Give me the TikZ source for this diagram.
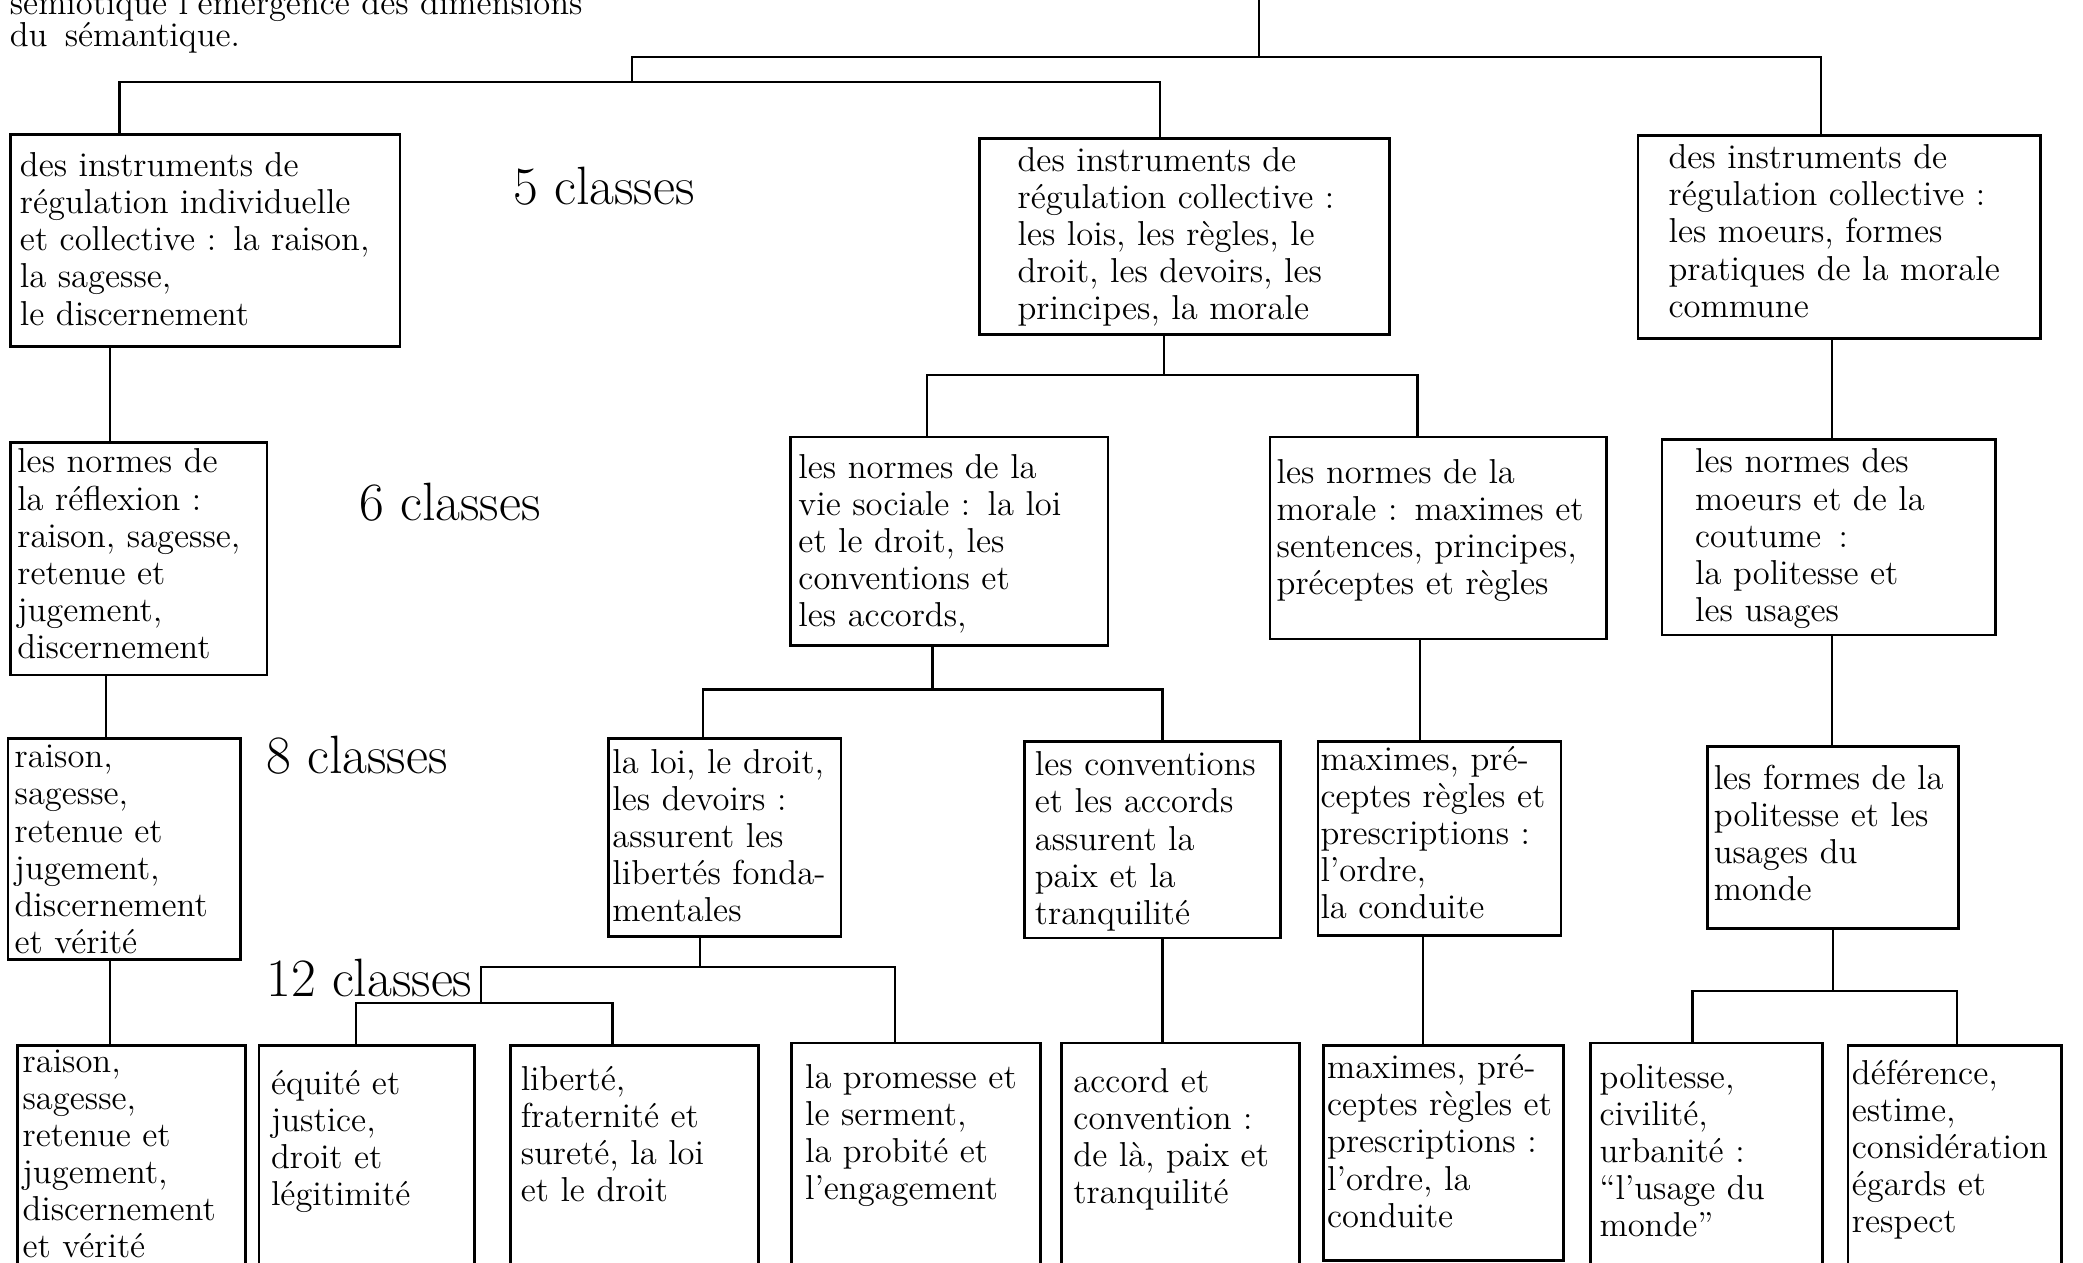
\documentclass[tikz,border=0pt]{standalone}
\newlength{\unitpx}
\setlength{\unitpx}{0.48pt}
\begin{document}
\begin{tikzpicture}[x=0.48pt,y=-0.48pt,
    cls/.style={draw, line width=1pt, anchor=north west, align=left, inner ysep=0pt,
      font=\fontsize{12.5}{13.4}\selectfont},
    lbl/.style={anchor=base west, inner sep=0pt, font=\fontsize{19.5}{22}\selectfont},
    link/.style={line width=0.8pt}]
    \useasboundingbox (0,0) rectangle (1568,950);
    \clip (0,0) rectangle (1568,950);
    \fill[white] (0,0) rectangle (1568,950);
    %
    \node[anchor=base west, inner sep=0pt, text width=450\unitpx, align=left,
      font=\fontsize{12.5}{11.5}\selectfont] (intro) at (7,11)
      {\makebox[440\unitpx][s]{sémiotique l’émergence des dimensions}\\du\enspace sémantique.};
    %
    \node[lbl] (c5) at (386,154) {5 classes};
    \node[lbl] (c6) at (270,392) {6 classes};
    \node[lbl] (c8) at (200,582) {8 classes};
    \node[lbl] (c12) at (200,750) {12 classes};
    %
    \node[cls, inner xsep=7\unitpx, text width=279\unitpx, text height=32\unitpx, text depth=128\unitpx] (b1) at (7,100)
      {des instruments de\\régulation individuelle\\et collective : la raison,\\la sagesse,\\le discernement};
    \node[cls, inner xsep=29\unitpx, text width=251\unitpx, text height=25\unitpx, text depth=123\unitpx] (b2) at (736,103)
      {des instruments de\\régulation collective :\\les lois, les règles, le\\droit, les devoirs, les\\principes, la morale};
    \node[cls, inner xsep=23\unitpx, text width=257\unitpx, text height=25\unitpx, text depth=128\unitpx] (b3) at (1232,101)
      {des instruments de\\régulation collective :\\les moeurs, formes\\pratiques de la morale\\commune};
    %
    \node[cls, inner xsep=5\unitpx, text width=183\unitpx, text height=23\unitpx, text depth=152\unitpx] (b4) at (7,332)
      {les normes de\\la réflexion :\\raison, sagesse,\\retenue et\\jugement,\\discernement};
    \node[cls, inner xsep=6\unitpx, text width=227\unitpx, text height=31\unitpx, text depth=126\unitpx] (b5) at (594,328)
      {les normes de la\\vie sociale : la loi\\et le droit, les\\conventions et\\les accords,};
    \node[cls, inner xsep=5\unitpx, text width=243\unitpx, text height=35\unitpx, text depth=117\unitpx] (b6) at (955,328)
      {les normes de la\\morale : maximes et\\sentences, principes,\\préceptes et règles};
    \node[cls, inner xsep=25\unitpx, text width=201\unitpx, text height=25\unitpx, text depth=122\unitpx] (b7) at (1250,330)
      {les normes des\\moeurs et de la\\coutume\enspace:\\la politesse et\\les usages};
    %
    \node[cls, inner xsep=5\unitpx, text width=165\unitpx, text height=22\unitpx, text depth=144\unitpx] (b8) at (5,555)
      {raison,\\sagesse,\\retenue et\\jugement,\\discernement\\et vérité};
    \node[cls, inner xsep=3\unitpx, text width=169\unitpx, text height=26\unitpx, text depth=123\unitpx] (b9) at (457,555)
      {la loi, le droit,\\les devoirs :\\assurent les\\libertés fonda-\\mentales};
    \node[cls, inner xsep=8\unitpx, text width=177\unitpx, text height=26\unitpx, text depth=122\unitpx] (b10) at (770,557)
      {les conventions\\et les accords\\assurent la\\paix et la\\tranquilité};
    \node[cls, inner xsep=2\unitpx, text width=179\unitpx, text height=22\unitpx, text depth=124\unitpx] (b11) at (991,557)
      {maximes, pré-\\ceptes règles et\\prescriptions :\\l’ordre,\\la conduite};
    \node[cls, inner xsep=5\unitpx, text width=179\unitpx, text height=32\unitpx, text depth=105\unitpx] (b12) at (1284,561)
      {les formes de la\\politesse et les\\usages du\\monde};
    %
    \node[cls, inner xsep=4\unitpx, text width=164\unitpx, text height=20\unitpx, text depth=194\unitpx] (b13) at (12,786)
      {raison,\\sagesse,\\retenue et\\jugement,\\discernement\\et vérité};
    \node[cls, inner xsep=9\unitpx, text width=144\unitpx, text height=37\unitpx, text depth=177\unitpx] (b14) at (194,786)
      {équité et\\justice,\\droit et\\légitimité};
    \node[cls, inner xsep=8\unitpx, text width=171\unitpx, text height=34\unitpx, text depth=180\unitpx] (b15) at (383,786)
      {liberté,\\fraternité et\\sureté, la loi\\et le droit};
    \node[cls, inner xsep=10\unitpx, text width=167\unitpx, text height=34\unitpx, text depth=182\unitpx] (b16) at (595,784)
      {la promesse et\\le serment,\\la probité et\\l’engagement};
    \node[cls, inner xsep=9\unitpx, text width=161\unitpx, text height=37\unitpx, text depth=179\unitpx] (b17) at (798,784)
      {accord et\\convention :\\de là, paix et\\tranquilité};
    \node[cls, inner xsep=3\unitpx, text width=175\unitpx, text height=25\unitpx, text depth=137\unitpx] (b18) at (995,786)
      {maximes, pré-\\ceptes règles et\\prescriptions :\\l’ordre, la\\conduite};
    \node[cls, inner xsep=7\unitpx, text width=161\unitpx, text height=34\unitpx, text depth=182\unitpx] (b19) at (1196,784)
      {politesse,\\civilité,\\urbanité :\\“l’usage du\\monde”};
    \node[cls, inner xsep=3\unitpx, text width=155\unitpx, text height=29\unitpx, text depth=185\unitpx] (b20) at (1390,786)
      {déférence,\\estime,\\considération\\égards et\\respect};
    %
    \coordinate (root) at (948,-10);
    \coordinate (r0) at (948,43);
    \coordinate (r1) at (476,62);
    \draw[link] (root) -- (r0);
    \draw[link] (r1) -- (r1 |- r0) -- (r0 -| 1371,0) -- (b3.north -| 1371,0);
    \draw[link] (b1.north -| 90,0) -- (r1 -| 90,0) -- (r1 -| 873,0) -- (b2.north -| 873,0);
    %
    \coordinate (r2) at (876,282);
    \draw[link] (b1.south -| 83,0) -- (b4.north -| 83,0);
    \draw[link] (b2.south -| r2) -- (r2);
    \draw[link] (b5.north -| 698,0) -- (r2 -| 698,0) -- (r2 -| 1067,0) -- (b6.north -| 1067,0);
    \draw[link] (b3.south -| 1379,0) -- (b7.north -| 1379,0);
    %
    \coordinate (r3) at (702,519);
    \draw[link] (b4.south -| 80,0) -- (b8.north -| 80,0);
    \draw[link] (b5.south -| r3) -- (r3);
    \draw[link] (b9.north -| 529,0) -- (r3 -| 529,0) -- (r3 -| 875,0) -- (b10.north -| 875,0);
    \draw[link] (b6.south -| 1069,0) -- (b11.north -| 1069,0);
    \draw[link] (b7.south -| 1379,0) -- (b12.north -| 1379,0);
    %
    \coordinate (r4) at (527,728);
    \coordinate (r5) at (362,755);
    \coordinate (r6) at (1380,746);
    \draw[link] (b8.south -| 83,0) -- (b13.north -| 83,0);
    \draw[link] (b9.south -| r4) -- (r4);
    \draw[link] (r5) -- (r5 |- r4) -- (r4 -| 674,0) -- (b16.north -| 674,0);
    \draw[link] (b14.north -| 268,0) -- (r5 -| 268,0) -- (r5 -| 461,0) -- (b15.north -| 461,0);
    \draw[link] (b10.south -| 875,0) -- (b17.north -| 875,0);
    \draw[link] (b11.south -| 1071,0) -- (b18.north -| 1071,0);
    \draw[link] (b12.south -| r6) -- (r6);
    \draw[link] (b19.north -| 1274,0) -- (r6 -| 1274,0) -- (r6 -| 1473,0) -- (b20.north -| 1473,0);
\end{tikzpicture}
\end{document}
